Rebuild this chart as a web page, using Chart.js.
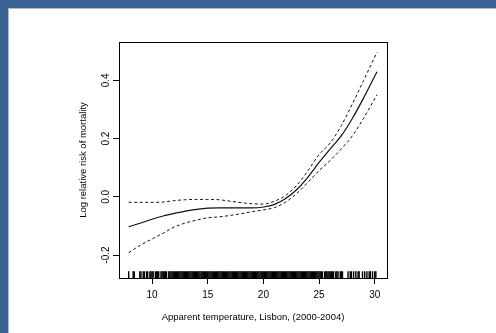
<!DOCTYPE html>
<html>
<head>
<meta charset="utf-8">
<script src="https://cdn.jsdelivr.net/npm/chart.js@4.4.0/dist/chart.umd.min.js"></script>
<style>
html, body { margin: 0; padding: 0; background: #3b6494; overflow: hidden; }
#frame { position: absolute; left: 8px; top: 8px; width: 488px; height: 325px; background: #fff;
         border-left: 1px solid #a9bdd6; border-top: 1px solid #a9bdd6; }
#wrap { position: absolute; left: 0; top: 0; width: 487px; height: 324px; }
</style>
</head>
<body>
<div id="frame"><div id="wrap"><canvas id="myChart"></canvas></div></div>
<script>
const tempGrid = [7.9, 9, 10, 11, 12, 13, 14, 15, 16, 17, 18, 19, 20, 21, 22, 23, 24, 25, 26, 27, 28, 29, 30.2];
// log relative risk (fit) and the two confidence bands
const fitLogRR = [-0.103, -0.090, -0.077, -0.066, -0.057, -0.049, -0.043, -0.039, -0.038, -0.038, -0.038, -0.038,
                  -0.035, -0.026, -0.006, 0.025, 0.068, 0.118, 0.165, 0.210, 0.270, 0.340, 0.430];
const upperCI = [-0.019, -0.019, -0.019, -0.018, -0.013, -0.010, -0.009, -0.009, -0.010, -0.015, -0.020, -0.024,
                 -0.025, -0.015, 0.005, 0.040, 0.090, 0.145, 0.185, 0.245, 0.320, 0.400, 0.497];
const lowerCI = [-0.192, -0.165, -0.145, -0.125, -0.104, -0.090, -0.080, -0.072, -0.069, -0.064, -0.058, -0.051,
                 -0.045, -0.037, -0.018, 0.012, 0.050, 0.090, 0.125, 0.165, 0.210, 0.270, 0.351];
// observed temperatures (rug)
const rugTemps = [
  7.9, 8.3, 8.4, 8.9, 9.0, 9.2, 9.3, 9.5, 9.6, 9.8, 9.9,
  10.0, 10.1, 10.3, 10.4, 10.5, 10.6, 10.8, 10.9,
  11.0, 11.1, 11.2, 11.3, 11.5, 11.6, 11.7, 11.8, 11.9,
  12.0, 12.1, 12.2, 12.3, 12.4, 12.5, 12.6, 12.7, 12.8, 12.9,
  13.0, 13.1, 13.2, 13.3, 13.4, 13.5, 13.6, 13.7, 13.8, 13.9,
  14.0, 14.1, 14.2, 14.3, 14.4, 14.5, 14.6, 14.7, 14.8, 14.9,
  15.0, 15.1, 15.2, 15.3, 15.4, 15.5, 15.6, 15.7, 15.8, 15.9,
  16.0, 16.1, 16.2, 16.3, 16.4, 16.5, 16.6, 16.7, 16.8, 16.9,
  17.0, 17.1, 17.2, 17.3, 17.4, 17.5, 17.6, 17.7, 17.8, 17.9,
  18.0, 18.1, 18.2, 18.3, 18.4, 18.5, 18.6, 18.7, 18.8, 18.9,
  19.0, 19.1, 19.2, 19.3, 19.4, 19.5, 19.6, 19.7, 19.8, 19.9,
  20.0, 20.1, 20.2, 20.3, 20.4, 20.5, 20.6, 20.7, 20.8, 20.9,
  21.0, 21.1, 21.2, 21.3, 21.4, 21.5, 21.6, 21.7, 21.8, 21.9,
  22.0, 22.1, 22.2, 22.3, 22.4, 22.5, 22.6, 22.7, 22.8, 22.9,
  23.0, 23.1, 23.2, 23.3, 23.4, 23.5, 23.6, 23.7, 23.8, 23.9,
  24.0, 24.1, 24.2, 24.3, 24.4, 24.5, 24.6, 24.7, 24.8, 24.9,
  25.0, 25.1, 25.2, 25.3, 25.5, 25.6, 25.7, 25.8, 25.9,
  26.0, 26.1, 26.2, 26.3, 26.5, 26.6, 26.7, 26.9,
  27.0, 27.1, 27.6, 27.8, 27.9, 28.1, 28.3, 28.5, 28.6, 28.9,
  29.1, 29.3, 29.5, 29.6, 29.8, 30.0, 30.1
];
const xTicks = [10, 15, 20, 25, 30];
const yTicks = [-0.2, 0.0, 0.2, 0.4];

const X_MIN = 7.03, X_MAX = 31.1;
const Y_MIN = -0.279, Y_MAX = 0.532;
const RUG_Y = -0.2675;

const FONT = 'Liberation Sans, Arial, Helvetica, sans-serif';

function pairs(xs, ys) { return xs.map((x, i) => ({ x: x, y: ys[i] })) }

// box around plot region, like R's box()
const boxPlugin = {
    id: 'box',
    afterDraw(chart) {
        const a = chart.chartArea;
        const c = chart.ctx;
        c.save();
        c.strokeStyle = '#000';
        c.lineWidth = 1;
        c.strokeRect(Math.round(a.left) + 0.5, Math.round(a.top) + 0.5,
                     Math.round(a.right - a.left), Math.round(a.bottom - a.top));
        c.restore();
    }
};

let ctx = document.getElementById('myChart').getContext('2d');
let chart = new Chart(ctx, {
    type: 'line',
    data: {
        datasets: [{
            label: 'upper',
            data: pairs(tempGrid, upperCI),
            borderColor: '#111',
            borderWidth: 1,
            borderDash: [3, 2.5],
            pointRadius: 0,
            cubicInterpolationMode: 'monotone'
        }, {
            label: 'fit',
            data: pairs(tempGrid, fitLogRR),
            borderColor: '#111',
            borderWidth: 1.2,
            pointRadius: 0,
            cubicInterpolationMode: 'monotone'
        }, {
            label: 'lower',
            data: pairs(tempGrid, lowerCI),
            borderColor: '#111',
            borderWidth: 1,
            borderDash: [3, 2.5],
            pointRadius: 0,
            cubicInterpolationMode: 'monotone'
        }, {
            type: 'scatter',
            label: 'rug',
            data: rugTemps.map(t => ({ x: t, y: RUG_Y })),
            pointStyle: 'line',
            rotation: 90,
            radius: 3.4,
            borderColor: '#000',
            borderWidth: 1.4,
            showLine: false
        }]
    },
    options: {
        responsive: true,
        maintainAspectRatio: false,
        animation: false,
        events: [],
        layout: { padding: { left: 60, right: 109, top: 33, bottom: 5 } },
        plugins: { legend: { display: false }, tooltip: { enabled: false } },
        scales: {
            x: {
                type: 'linear',
                min: X_MIN, max: X_MAX,
                afterBuildTicks: s => { s.ticks = xTicks.map(v => ({ value: v })) },
                afterFit: s => { s.height = 50 },
                border: { display: false },
                grid: { drawOnChartArea: false, drawTicks: true, tickLength: 6, tickColor: '#000' },
                ticks: { color: '#000', font: { family: FONT, size: 10 }, padding: 5, maxRotation: 0,
                         callback: v => String(v) },
                title: { display: true, text: 'Apparent temperature, Lisbon, (2000-2004)', color: '#000',
                         font: { family: FONT, size: 9.5 }, padding: { top: 0, bottom: 4.6 } }
            },
            y: {
                min: Y_MIN, max: Y_MAX,
                afterBuildTicks: s => { s.ticks = yTicks.map(v => ({ value: v })) },
                afterFit: s => { s.width = 50 },
                border: { display: false },
                grid: { drawOnChartArea: false, drawTicks: true, tickLength: 6, tickColor: '#000' },
                ticks: { color: '#000', font: { family: FONT, size: 10 }, padding: -2,
                         minRotation: 90, maxRotation: 90, crossAlign: 'center',
                         callback: v => Number(v).toFixed(1) },
                title: { display: true, text: 'Log relative risk of mortality', color: '#000',
                         font: { family: FONT, size: 9.5 }, padding: { top: 8.3, bottom: 0 } }
            }
        }
    },
    plugins: [boxPlugin]
});
</script>
</body>
</html>
